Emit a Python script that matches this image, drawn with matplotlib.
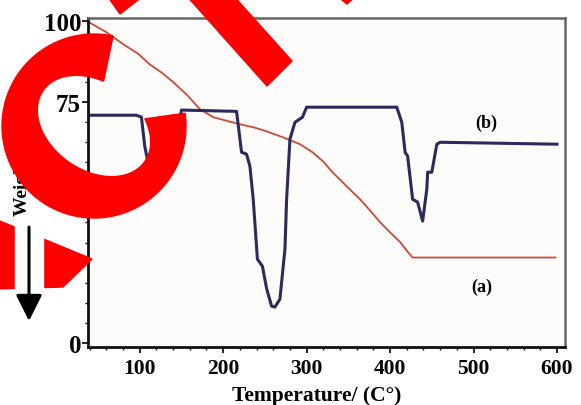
import numpy as np
import matplotlib
matplotlib.use("Agg")
import matplotlib.pyplot as plt
from matplotlib.patches import Polygon, Rectangle
from matplotlib.ticker import MultipleLocator

# (a) TGA weight loss curve
temp_a = [39, 60, 80, 98, 112, 127, 140, 157, 172, 188, 205, 220, 237, 252, 272, 292,
          307, 320, 331, 348, 364, 376, 388, 400, 412, 421, 427, 598]
weight_a = [99.7, 96.6, 92.9, 89.9, 86.6, 83.9, 81.1, 77.0, 72.7, 70.2, 69.0, 68.0,
            67.0, 65.8, 63.9, 61.8, 59.3, 56.4, 53.1, 48.7, 44.7, 41.2, 37.6, 34.4,
            31.4, 28.4, 26.6, 26.6]

# (b) DTA trace
temp_b = [39, 96, 102, 106, 110, 114, 130, 142, 148, 150, 216, 222, 228, 232, 236, 241,
          247, 252, 258, 262, 268, 274, 276, 280, 286, 295, 300, 408, 414, 418, 421,
          427, 433, 439, 444, 445, 450, 456, 460, 600]
dta_b = [70.8, 70.8, 70.2, 61.2, 56.0, 52.5, 50.9, 57.1, 69.6, 72.4, 72.0, 59.3, 58.7,
         55.0, 44.7, 26.1, 23.9, 17.0, 11.5, 11.2, 13.7, 29.2, 44.7, 63.4, 68.6, 70.2,
         73.3, 73.3, 68.6, 59.3, 58.1, 44.7, 43.8, 37.9, 47.8, 53.1, 53.1, 61.8, 62.4,
         61.8]

x_ticks = [100, 200, 300, 400, 500, 600]
y_ticks = [0, 25, 50, 75, 100]

plt.rcParams['font.family'] = 'Liberation Serif'
plt.rcParams['font.weight'] = 'bold'

fig = plt.figure(figsize=(5.81, 4.06), dpi=100)
ax = fig.add_axes([88 / 581, 1 - 348 / 406, 477 / 581, 329 / 406])
ax.set_facecolor('#fdfcfa')

ax.plot(temp_a, weight_a, color='#cc4a3a', lw=1.3)
ax.plot(temp_b, dta_b, color='#2b2a5c', lw=2.2)

ax.set_xlim(38, 609.6)
ax.set_ylim(-1.2, 101)
ax.set_xticks(x_ticks)
ax.set_yticks(y_ticks)
ax.xaxis.set_minor_locator(MultipleLocator(20))
ax.yaxis.set_minor_locator(MultipleLocator(6.25))
ax.tick_params(which='major', length=4, width=1.2, labelsize=15.5, pad=4)
ax.tick_params(axis='y', which='major', labelsize=18, pad=1)
ax.tick_params(which='minor', length=2.5, width=1)

for side in ['left', 'bottom']:
    ax.spines[side].set_color('#111111')
    ax.spines[side].set_linewidth(2)
for side in ['top', 'right']:
    ax.spines[side].set_color('#666666')
    ax.spines[side].set_linewidth(1.8)

ax.set_xlabel('Temperature/ (C°)', fontsize=15.5, fontweight='bold')
ax.xaxis.set_label_coords(0.479, -0.115)

ax.text(515, 68.5, '(b)', fontsize=13, fontweight='bold', ha='center', va='center')
ax.text(510, 17.5, '(a)', fontsize=13, fontweight='bold', ha='center', va='center')

# pixel-space layer for the axis caption, arrow and red marks
ov = fig.add_axes([0, 0, 1, 1], zorder=10)
ov.set_xlim(0, 581)
ov.set_ylim(406, 0)
ov.axis('off')
ov.patch.set_alpha(0)

ov.text(22, 216, 'Weight (%)', rotation=90, ha='center', va='bottom',
        fontsize=14, fontweight='bold', zorder=2)

red = '#ff0000'

# C-shaped mark: round outside, tilted oval hole, open towards the upper right
cx, cy, r_out = 94, 127, 92
hole_a, hole_b, tilt = 62, 44, np.radians(35)
phi = np.radians(np.linspace(-8, 282, 200))
outer = np.column_stack([cx + r_out * np.cos(phi), cy + r_out * np.sin(phi)])
rel = phi - tilt
r_in = hole_a * hole_b / np.sqrt((hole_b * np.cos(rel)) ** 2 + (hole_a * np.sin(rel)) ** 2)
inner = np.column_stack([cx + r_in * np.cos(phi), cy + r_in * np.sin(phi)])[::-1]
ov.add_patch(Polygon(np.vstack([outer, inner]), color=red, zorder=5))

ov.add_patch(Polygon([(185, -5), (232, -5), (292, 62), (267, 87)], color=red, zorder=5))
ov.add_patch(Polygon([(108, -2), (142, -2), (120, 15)], color=red, zorder=5))
ov.add_patch(Polygon([(338, -2), (355, -2), (347, 5)], color=red, zorder=5))
ov.add_patch(Polygon([(-5, 220), (92, 260), (63, 288), (-5, 290)], color=red, zorder=5))

# arrow sits on its own white strip above the red band
ov.add_patch(Rectangle((15, 225), 28, 105, color='white', zorder=6))
ov.annotate('', xy=(29, 322), xytext=(29, 228), zorder=7,
            arrowprops=dict(arrowstyle='-|>', lw=2.2, color='black',
                            mutation_scale=40, shrinkA=0, shrinkB=0))

fig.savefig('out.png', dpi=100)
